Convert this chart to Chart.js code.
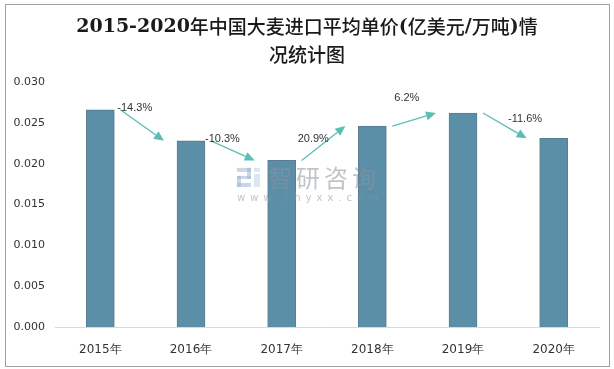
<!DOCTYPE html>
<html>
<head>
<meta charset="utf-8">
<script src="https://cdn.jsdelivr.net/npm/chart.js@4.4.1/dist/chart.umd.min.js"></script>
<style>
  html, body { margin: 0; padding: 0; background: #fff; }
  #wrap { width: 614px; height: 369px; position: relative; }
</style>
</head>
<body>
<div id="wrap"><canvas id="c" width="614" height="369"></canvas></div>
<script>
// ---- data ----
const categories = ['2015年', '2016年', '2017年', '2018年', '2019年', '2020年'];
const unitPrice = [0.0266, 0.0228, 0.0204, 0.0246, 0.0262, 0.0231];
const changeLabels = ['-14.3%', '-10.3%', '20.9%', '6.2%', '-11.6%'];
const titleLines = ['2015-2020年中国大麦进口平均单价(亿美元/万吨)情', '况统计图'];
const yTickStep = 0.005;
const yMax = 0.030;

// ---- styling (offsets of the change labels relative to their arrow start) ----
const labelOffsets = [[-3, -2], [-6, -2], [-4, -21], [2, -28], [25, 6]];
const arrowColor = '#5cbdb4';

function drawMixed(ctx, text, cx, cy, latinFont, cjkFont) {
  const runs = [];
  const isCJK = ch => /[\u3000-\u9fff\uff00-\uffef]/.test(ch);
  for (const ch of text) {
    const c = isCJK(ch);
    if (runs.length && runs[runs.length - 1].cjk === c) runs[runs.length - 1].t += ch;
    else runs.push({ t: ch, cjk: c });
  }
  let total = 0;
  for (const r of runs) { ctx.font = r.cjk ? cjkFont : latinFont; r.w = ctx.measureText(r.t).width; total += r.w; }
  let x = cx - total / 2;
  ctx.textAlign = 'left';
  for (const r of runs) { ctx.font = r.cjk ? cjkFont : latinFont; ctx.fillText(r.t, x, cy); x += r.w; }
}

const decorPlugin = {
  id: 'decor',
  beforeDraw(chart) {
    const ctx = chart.ctx;
    ctx.save();
    ctx.fillStyle = '#fff';
    ctx.fillRect(0, 0, chart.width, chart.height);
    ctx.strokeStyle = '#a0a0a0';
    ctx.lineWidth = 1;
    ctx.strokeRect(5.5, 4.5, 604, 362);
    ctx.restore();
  },
  afterDatasetsDraw(chart) {
    const ctx = chart.ctx;
    const meta = chart.getDatasetMeta(0);
    const xs = chart.scales.x;
    const ys = chart.scales.y;
    ctx.save();
    // watermark
    const wmX = (xs.getPixelForValue(2) + xs.getPixelForValue(3)) / 2 - 20;
    const wmY = ys.getPixelForValue(0.0185);
    ctx.globalAlpha = 0.55;
    // logo
    ctx.fillStyle = '#9fb4cf';
    ctx.fillRect(wmX - 70, wmY - 8, 14, 4);
    ctx.fillRect(wmX - 60, wmY - 8, 4, 11);
    ctx.fillRect(wmX - 70, wmY, 14, 3);
    ctx.fillRect(wmX - 70, wmY, 4, 11);
    ctx.fillRect(wmX - 70, wmY + 7, 14, 4);
    ctx.fillStyle = '#b9d3ec';
    ctx.fillRect(wmX - 53, wmY - 8, 6, 4);
    ctx.fillRect(wmX - 53, wmY - 2, 6, 13);
    ctx.fillStyle = '#8c939b';
    ctx.font = '24px "Noto Sans CJK SC"';
    ctx.textBaseline = 'middle';
    ctx.textAlign = 'left';
    if ('letterSpacing' in ctx) ctx.letterSpacing = '4px';
    ctx.fillText('智研咨询', wmX - 39, wmY + 2);
    ctx.font = '10px "DejaVu Sans"';
    if ('letterSpacing' in ctx) ctx.letterSpacing = '5px';
    ctx.fillText('www.chyxx.com', wmX - 70, wmY + 22);
    if ('letterSpacing' in ctx) ctx.letterSpacing = '0px';
    ctx.globalAlpha = 1;

    // arrows + labels
    for (let i = 0; i < changeLabels.length; i++) {
      const a = meta.data[i], b = meta.data[i + 1];
      const x1 = a.x + 20, y1 = a.y;
      const x2 = b.x - 27, y2 = b.y;
      const ang = Math.atan2(y2 - y1, x2 - x1);
      const hl = 10, hw = 4.5;
      const bx = x2 - hl * Math.cos(ang), by = y2 - hl * Math.sin(ang);
      ctx.strokeStyle = arrowColor;
      ctx.lineWidth = 1.3;
      ctx.beginPath();
      ctx.moveTo(x1, y1);
      ctx.lineTo(bx, by);
      ctx.stroke();
      ctx.fillStyle = arrowColor;
      ctx.beginPath();
      ctx.moveTo(x2, y2);
      ctx.lineTo(bx + hw * Math.sin(ang), by - hw * Math.cos(ang));
      ctx.lineTo(bx - hw * Math.sin(ang), by + hw * Math.cos(ang));
      ctx.closePath();
      ctx.fill();
      ctx.fillStyle = '#333';
      ctx.font = '11px "Liberation Sans"';
      ctx.textAlign = 'left';
      ctx.textBaseline = 'middle';
      ctx.fillText(changeLabels[i], x1 + labelOffsets[i][0], y1 + labelOffsets[i][1]);
    }
    ctx.restore();
  },
  afterDraw(chart) {
    const ctx = chart.ctx;
    ctx.save();
    ctx.fillStyle = '#1a1a1a';
    ctx.textBaseline = 'middle';
    const latin = 'bold 19px "DejaVu Serif"';
    const cjk = '500 19px "Noto Sans CJK SC"';
    drawMixed(ctx, titleLines[0], 307, 27, latin, cjk);
    drawMixed(ctx, titleLines[1], 307, 55, latin, cjk);
    ctx.restore();
  }
};

new Chart(document.getElementById('c'), {
  type: 'bar',
  data: {
    labels: categories,
    datasets: [{
      data: unitPrice,
      backgroundColor: '#5b8fa7',
      borderColor: 'rgba(62,102,128,0.85)',
      borderWidth: 1,
      barThickness: 28
    }]
  },
  options: {
    responsive: false,
    animation: false,
    devicePixelRatio: 1,
    layout: { padding: { left: 5, right: 15, top: 82, bottom: 12 } },
    plugins: { legend: { display: false }, title: { display: false }, tooltip: { enabled: false } },
    scales: {
      x: {
        grid: { display: false },
        border: { display: true, color: '#d9d9d9', width: 1 },
        ticks: { color: '#333', font: { family: 'DejaVu Sans', size: 12 }, padding: 8 },
        afterFit(s) { s.height = 30; }
      },
      y: {
        min: 0, max: yMax,
        grid: { display: false, drawTicks: false },
        border: { display: false },
        ticks: {
          stepSize: yTickStep,
          color: '#333',
          font: { family: 'DejaVu Sans', size: 11 },
          padding: 10,
          callback: v => v.toFixed(3)
        },
        afterFit(s) { s.width = 50; }
      }
    }
  },
  plugins: [decorPlugin]
});
</script>
</body>
</html>
